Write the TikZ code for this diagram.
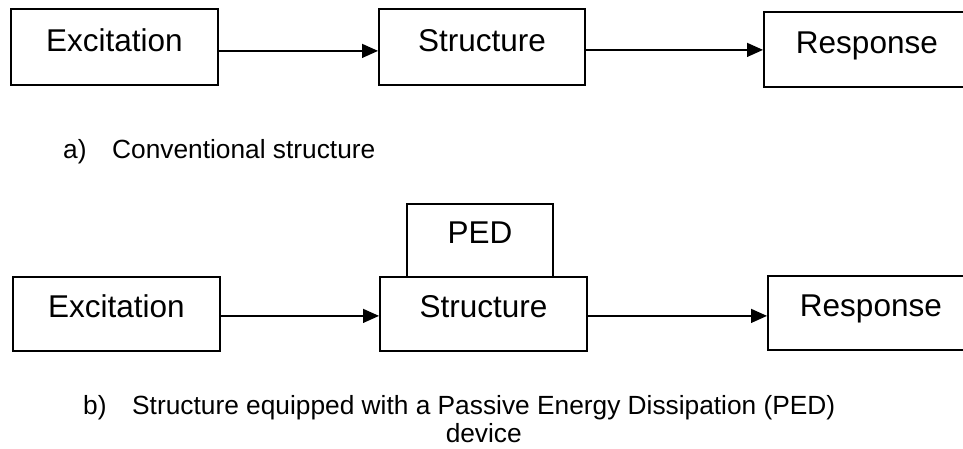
\documentclass[tikz,border=0pt]{standalone}
\usepackage{fontspec}
\setmainfont{Liberation Sans}
\usetikzlibrary{arrows.meta}
\newcommand\boxfont{\fontsize{31.5}{36}\selectfont}
\newcommand\capfont{\fontsize{26.3}{28}\selectfont}
\tikzset{
  blockbox/.style={draw, line width=1.8pt, inner sep=0pt, font=\boxfont,
    anchor=north west, minimum width=#1},
  blockbox/.default=207pt,
  flow/.style={line width=1.4pt, -{Triangle[length=16pt,width=14pt]}},
  caption/.style={inner sep=0pt, font=\capfont, anchor=base west}
}
\begin{document}
\begin{tikzpicture}[x=1pt,y=-1pt]
\useasboundingbox (0,0) rectangle (963,448);

% a) conventional structure
\node[blockbox, text height=43pt, text depth=33pt] (ex1) at (10,8) {Excitation};
\node[blockbox=206pt, text height=43pt, text depth=33pt] (st1) at (378,8) {Structure};
\node[blockbox=206pt, text height=42pt, text depth=33pt] (re1) at (763,11) {Response};
\draw[flow] ([yshift=-4pt]ex1.east) -- ([yshift=-4pt]ex1.east -| st1.west);
\draw[flow] ([yshift=-3pt]st1.east) -- ([yshift=-3pt]st1.east -| re1.west);
\node[caption] (la) at (63,158) {a)};
\node[caption] (ca) at (112,158) {Conventional structure};

% b) structure with a PED device
\node[blockbox=146pt, text height=40pt, text depth=33pt] (ped) at (406,203) {PED};
\node[blockbox, text height=41pt, text depth=33pt] (ex2) at (12,276) {Excitation};
\node[blockbox, text height=41pt, text depth=33pt] (st2) at (379,276) {Structure};
\node[blockbox=206pt, text height=41pt, text depth=33pt] (re2) at (767,275) {Response};
\draw[flow] ([yshift=-2pt]ex2.east) -- ([yshift=-2pt]ex2.east -| st2.west);
\draw[flow] ([yshift=-2pt]st2.east) -- ([yshift=-2pt]st2.east -| re2.west);
\node[caption] (lb) at (83,414) {b)};
\node[caption] (cb) at (132,414)
  {\begin{tabular}[t]{@{}c@{}}Structure equipped with a Passive Energy Dissipation (PED)\\device\end{tabular}};
\end{tikzpicture}
\end{document}
